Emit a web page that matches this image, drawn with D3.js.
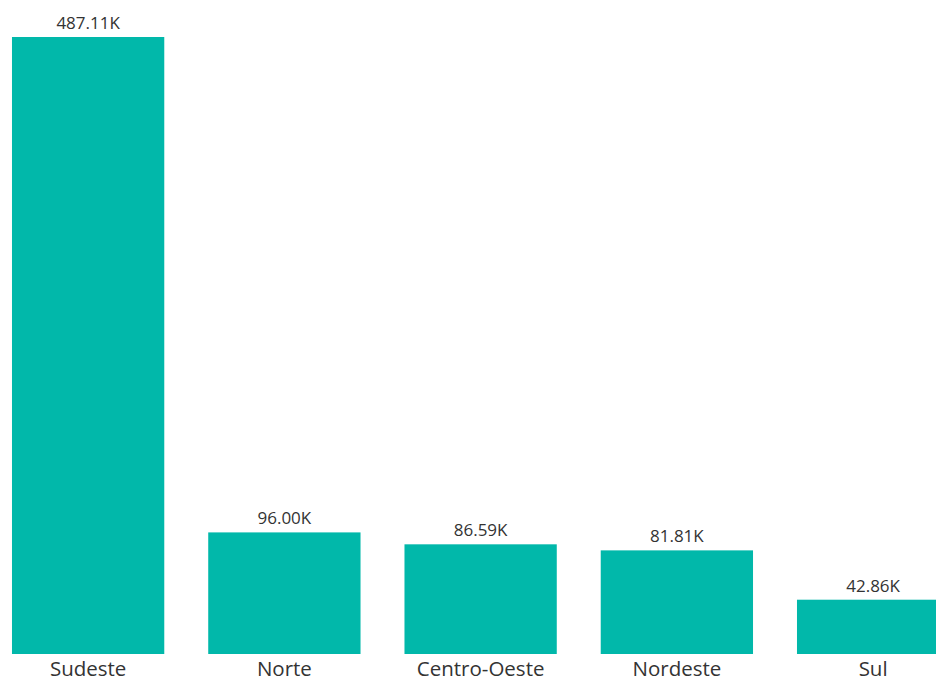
<!DOCTYPE html>
<html>
<head>
<meta charset="utf-8">
<script src="https://cdn.jsdelivr.net/npm/d3@7"></script>
<style>
  html, body { margin: 0; padding: 0; background: #ffffff; overflow: hidden; }
  svg { display: block; }
</style>
</head>
<body>
<svg id="chart" width="936" height="682"></svg>
<script>
// Regions and their totals (thousands)
const regions = ["Sudeste", "Norte", "Centro-Oeste", "Nordeste", "Sul"];
const totals = [487.11, 96.00, 86.59, 81.81, 42.86];
const valueLabels = ["487.11K", "96.00K", "86.59K", "81.81K", "42.86K"];

const svg = d3.select("#chart");
const plotBottom = 654;
const plotTop = 37;

const x = d3.scaleBand()
  .domain(regions)
  .range([-10, 971.25])
  .paddingInner(0.224)
  .paddingOuter(0.112);

const y = d3.scaleLinear()
  .domain([0, 487.11])
  .range([plotBottom, plotTop]);

const data = regions.map((r, i) => ({ region: r, value: totals[i], label: valueLabels[i] }));

svg.selectAll("rect.bar")
  .data(data)
  .join("rect")
  .attr("class", "bar")
  .attr("x", d => x(d.region))
  .attr("y", d => y(d.value))
  .attr("width", x.bandwidth())
  .attr("height", d => plotBottom - y(d.value))
  .attr("fill", "#01B8AA");

svg.selectAll("text.value")
  .data(data)
  .join("text")
  .attr("class", "value")
  .attr("x", d => x(d.region) + x.bandwidth() / 2)
  .attr("y", d => y(d.value) - 8)
  .attr("text-anchor", "middle")
  .attr("font-family", "'Open Sans', 'Noto Sans', sans-serif")
  .attr("font-size", 17)
  .attr("fill", "#333333")
  .text(d => d.label);

// Category axis (no line, no ticks)
const xAxis = svg.append("g")
  .attr("transform", `translate(0,${plotBottom})`)
  .call(d3.axisBottom(x).tickSize(0).tickPadding(7));
xAxis.select(".domain").remove();
xAxis.selectAll("text")
  .attr("font-family", "'Open Sans', 'Noto Sans', sans-serif")
  .attr("font-size", 20.5)
  .attr("fill", "#333333");
</script>
</body>
</html>
